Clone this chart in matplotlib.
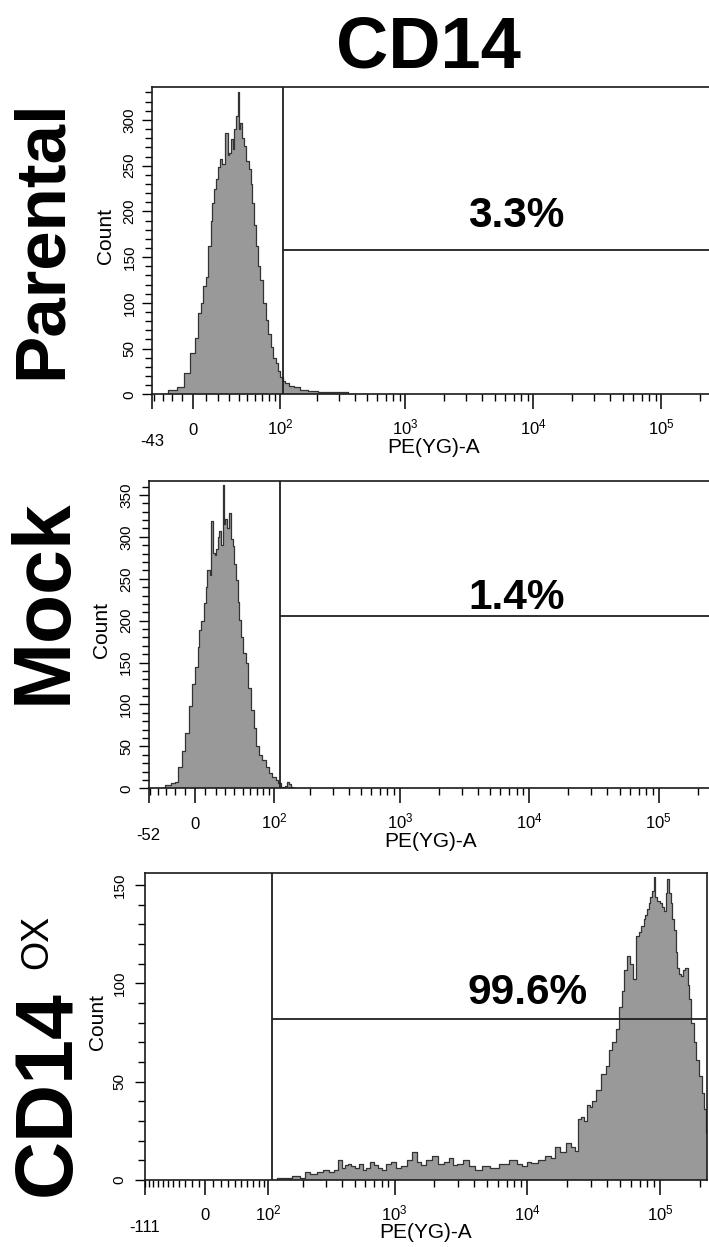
import numpy as np
import matplotlib.pyplot as plt

plt.rcParams['font.family'] = ['Liberation Sans', 'DejaVu Sans']
plt.rcParams['mathtext.fontset'] = 'custom'
plt.rcParams['mathtext.rm'] = 'Liberation Sans'
plt.rcParams['mathtext.it'] = 'Liberation Sans:italic'
plt.rcParams['mathtext.bf'] = 'Liberation Sans:bold'

# Datos
titulo = 'CD14'
muestras = ['Parental', 'Mock', 'CD14']
porcentajes = ['3.3%', '1.4%', '99.6%']
minimosEje = [-43, -52, -111]
maximosEje = [262144, 262144, 224800]
compuertaX = [106, 112, 107]
compuertaY = [158, 205, 82]
limiteCount = [336, 367, 156]
ticksCount = [[0, 50, 100, 150, 200, 250, 300],
              [0, 50, 100, 150, 200, 250, 300, 350],
              [0, 50, 100, 150]]
ticksDecadas = [0, 100, 1000, 10000, 100000]
etiquetasDecadas = ['0', r'$10^2$', r'$10^3$', r'$10^4$', r'$10^5$']

# (PE(YG)-A, Count)
parentalHist = [(-30, 0), (-19, 5), (-12, 8), (-6, 23), (0, 45), (3, 62), (5, 89), (7, 100),
                (9, 118), (11, 128), (13, 162), (15, 190), (16, 209), (18, 225), (19, 235),
                (21, 248), (23, 257), (25, 252), (28, 286), (30, 262), (31, 264), (33, 279),
                (35, 268), (36, 290), (38, 304), (40, 331), (41, 290), (43, 297), (45, 280),
                (47, 271), (50, 255), (53, 246), (55, 230), (57, 209), (60, 185), (62, 162),
                (65, 140), (69, 125), (73, 100), (77, 81), (81, 66), (85, 52), (90, 40),
                (94, 34), (98, 25), (103, 19), (108, 14), (113, 12), (125, 9), (136, 8),
                (160, 5), (184, 4), (230, 2), (306, 2), (400, 0)]

mockHist = [(-35, 0), (-27, 4), (-22, 6), (-18, 8), (-15, 26), (-11, 45), (-8, 66), (-4, 98),
            (-1, 125), (2, 145), (4, 168), (5, 189), (7, 200), (10, 221), (11, 240), (13, 261),
            (15, 255), (16, 319), (18, 281), (20, 278), (21, 285), (23, 300), (24, 307),
            (26, 290), (28, 362), (29, 315), (31, 321), (33, 310), (35, 329), (37, 297),
            (39, 289), (41, 268), (43, 249), (45, 222), (47, 201), (49, 180), (52, 162),
            (56, 149), (59, 120), (63, 94), (67, 72), (71, 50), (76, 40), (82, 34), (88, 26),
            (94, 18), (100, 13), (107, 10), (112, 6), (117, 2), (123, 1), (128, 3), (132, 8),
            (136, 5), (142, 1), (150, 0)]

cd14Hist = [(108, 0), (130, 1), (150, 1), (175, 2), (200, 1), (212, 4), (240, 3), (273, 4),
            (300, 5), (330, 4), (361, 5), (388, 10), (410, 6), (430, 7.5), (455, 8), (477, 7),
            (520, 6), (560, 8), (600, 5), (628, 6), (670, 9), (721, 7.6), (770, 6), (827, 5),
            (900, 8), (981, 9), (1060, 6), (1164, 7), (1300, 10), (1431, 14), (1530, 9),
            (1636, 7.6), (1800, 10), (2012, 12), (2230, 8), (2468, 9), (2650, 11), (2832, 7.6),
            (3100, 8), (3475, 10), (3850, 7), (4261, 5), (4900, 7), (5603, 6), (6700, 8),
            (7880, 10), (8700, 8), (9668, 7), (10300, 9), (11083, 8.5), (12800, 10),
            (14565, 12), (15600, 11), (16707, 17), (18500, 14), (20454, 18.6), (22000, 17),
            (23470, 15), (24900, 31), (26010, 32), (27400, 30), (28910, 38), (30200, 37),
            (31570, 40), (34500, 46), (37620, 54), (40000, 58), (42240, 66), (45000, 70),
            (47540, 77), (50390, 88), (52500, 96), (55030, 107), (58370, 114), (61000, 110),
            (63740, 102), (67570, 124), (70500, 126), (73810, 129), (76000, 133), (78200, 135),
            (80500, 138), (83040, 141), (85500, 144), (88040, 147), (90690, 154), (93260, 144),
            (97000, 142), (101900, 141), (105000, 139), (108100, 137), (111000, 146),
            (114600, 153), (118000, 146), (121400, 141), (125000, 133), (128900, 127),
            (132500, 116), (136600, 108), (140500, 105), (144700, 104), (151000, 107),
            (158100, 108), (163000, 99), (167800, 92), (175000, 80), (183300, 70), (191000, 61),
            (200100, 53), (209000, 44), (218400, 36), (224800, 24)]

histogramas = [parentalHist, mockHist, cd14Hist]

# escala biexponencial aproximada (arcsinh) por panel
escalaC = [44, 52, 75.7]
escalaK = [0.856, 0.931, 0.895]

ANCHO, ALTO = 709, 1247
cajasPx = [(152, 715, 87, 394.3), (148.5, 712.8, 480.7, 788.3), (144.7, 707, 873.3, 1180)]
textoPctPx = [(516, 216), (517, 598), (528, 993)]
muestraPx = [(43, 239), (45, 601), (49, 1093)]
tamMuestra = [51, 58, 58]
padCount = [3.5, 3.5, 5.5]


def crearEscala(c, k):
    def haciaDelante(x):
        y = np.arcsinh(np.asarray(x, dtype=float) / c)
        return np.where(y < 0, y * k, y)

    def haciaAtras(y):
        y = np.asarray(y, dtype=float)
        return np.where(y < 0, c * np.sinh(y / k), c * np.sinh(y))
    return haciaDelante, haciaAtras


def ticksMenores(xmin, xmax):
    menores = [v for v in range(-10, int(xmin), -10)]
    menores += list(range(10, 100, 10))
    for dec in [100, 1000, 10000, 100000]:
        menores += [m * dec for m in range(2, 10) if m * dec <= xmax]
    return menores


def construirHistogramas():
    fig = plt.figure(figsize=(ANCHO / 100, ALTO / 100), dpi=100)

    for i, datos in enumerate(histogramas):
        l, r, t, b = cajasPx[i]
        ax = fig.add_axes([l / ANCHO, 1 - b / ALTO, (r - l) / ANCHO, (b - t) / ALTO])
        ax.set_xscale('function', functions=crearEscala(escalaC[i], escalaK[i]))
        ax.set_xlim(minimosEje[i], maximosEje[i])
        ax.set_ylim(0, limiteCount[i])

        x = [p[0] for p in datos]
        y = [p[1] for p in datos]
        ax.fill_between(x, y, step='mid', color='#999999', lw=0, zorder=1)
        ax.step(x, y, where='mid', color='#333333', lw=0.9, zorder=2)

        # compuerta
        ax.axvline(compuertaX[i], color='#202020', lw=1.3, zorder=3)
        ax.hlines(compuertaY[i], compuertaX[i], maximosEje[i], color='#202020', lw=1.3, zorder=3)

        for s in ax.spines.values():
            s.set_linewidth(1.2)
            s.set_color('#1a1a1a')

        ax.set_xticks([minimosEje[i]] + ticksDecadas, [''] + etiquetasDecadas,
                      fontsize=12, va='baseline')
        ax.set_xticks(ticksMenores(minimosEje[i], maximosEje[i]), minor=True)
        ax.tick_params(axis='x', which='major', length=11, width=1.1, pad=18, direction='out')
        ax.tick_params(axis='x', which='minor', length=5, width=1.0, direction='out')
        ax.annotate(str(minimosEje[i]), xy=(minimosEje[i], 0), xycoords=ax.get_xaxis_transform(),
                    xytext=(0, -37.4), textcoords='offset points', ha='center', va='baseline',
                    fontsize=12)

        ax.set_yticks(ticksCount[i], [str(v) for v in ticksCount[i]], rotation=90,
                      va='center', fontsize=11)
        ax.set_yticks(np.arange(0, limiteCount[i], 10), minor=True)
        ax.tick_params(axis='y', which='major', length=7.5, width=1.0, pad=padCount[i])
        ax.tick_params(axis='y', which='minor', length=5, width=1.0)

        hPx = b - t
        wPx = r - l
        ax.set_xlabel('PE(YG)-A', fontsize=15, va='center')
        ax.xaxis.set_label_coords(0.5, -53 / hPx)
        ax.set_ylabel('Count', fontsize=15, va='center')
        ax.yaxis.set_label_coords(-47 / wPx, 0.5 + 5 / hPx)

        px, py = textoPctPx[i]
        fig.text(px / ANCHO, 1 - py / ALTO, porcentajes[i], fontsize=30.5, fontweight='bold',
                 ha='center', va='center')

        mx, my = muestraPx[i]
        fig.text(mx / ANCHO, 1 - my / ALTO, muestras[i], fontsize=tamMuestra[i],
                 fontweight='bold', rotation=90, ha='center', va='center')

    # superindice OX del ultimo panel
    fig.text(37 / ANCHO, 1 - 942 / ALTO, 'OX', fontsize=27, rotation=90,
             ha='center', va='center')
    fig.text(428 / ANCHO, 1 - 48 / ALTO, titulo, fontsize=52, fontweight='bold',
             ha='center', va='center')

    plt.savefig('out.png', format='png', dpi=100)


construirHistogramas()
